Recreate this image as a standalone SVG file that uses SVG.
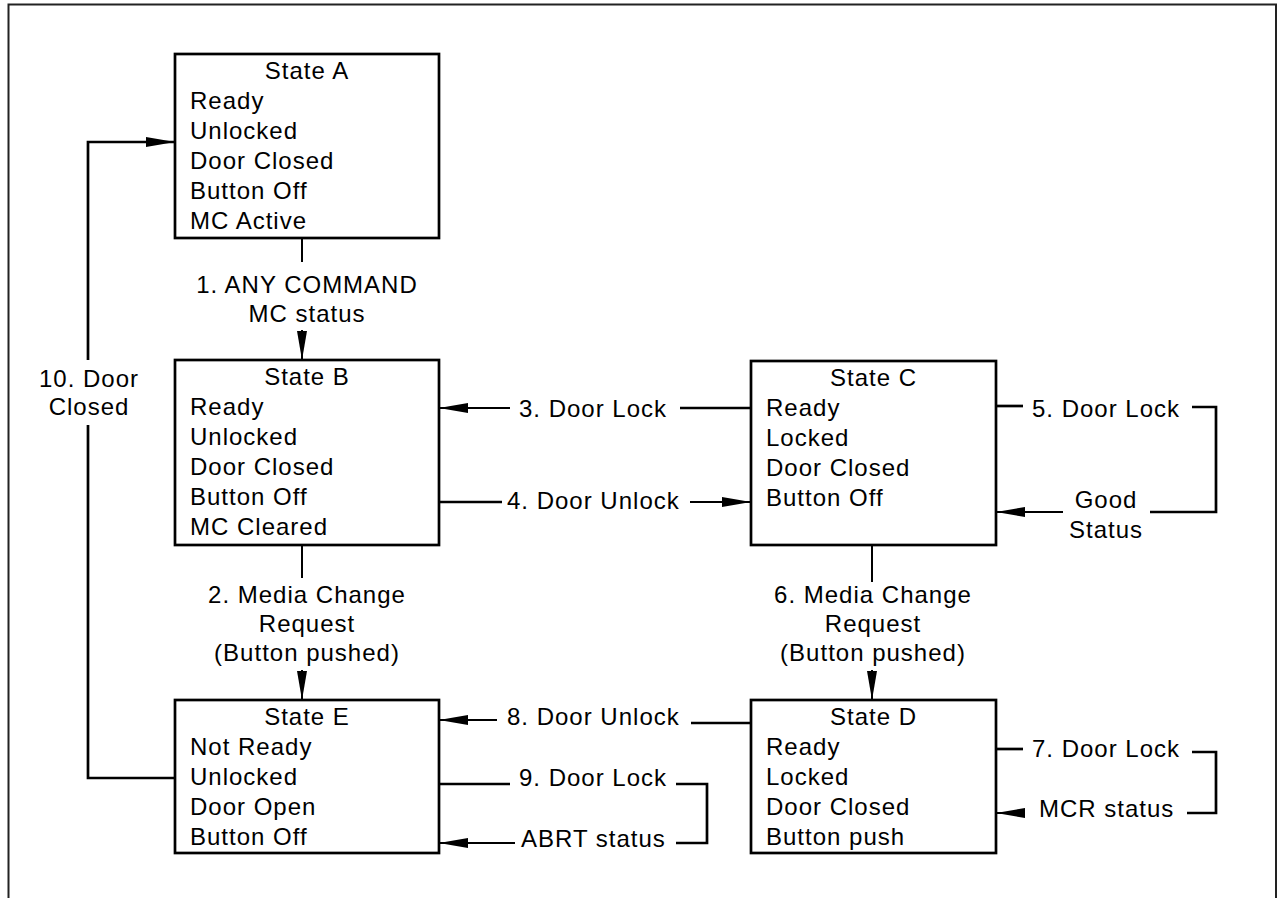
<svg xmlns="http://www.w3.org/2000/svg" width="1278" height="898" viewBox="0 0 1278 898">
  <defs>
    <marker id="ah" markerUnits="userSpaceOnUse" markerWidth="29" markerHeight="10" refX="29" refY="5" orient="auto">
      <path d="M0,0 L29,5 L0,10 z" fill="#000"/>
    </marker>
  </defs>
  <style>
    text { font-family: "Liberation Sans", Arial, sans-serif; font-size: 24px; letter-spacing: 1px; fill: #000; }
    .c { text-anchor: middle; }
    .box { fill: #fff; stroke: #000; stroke-width: 2.7; }
    .thick { fill: none; stroke: #000; stroke-width: 2.7; }
    .thin { fill: none; stroke: #000; stroke-width: 2; }
    .arr { marker-end: url(#ah); }
  </style>
  <rect x="0" y="0" width="1278" height="898" fill="#fff"/>
  <path d="M8.5,898 V4.5 H1276 V898" fill="none" stroke="#222" stroke-width="2"/>

  <g id="connectors">
    <!-- 1 -->
    <line class="thin" x1="302" y1="238" x2="302" y2="262"/>
    <line class="thin arr" x1="302" y1="330" x2="302" y2="360"/>
    <!-- 2 -->
    <line class="thin" x1="302" y1="545" x2="302" y2="578"/>
    <line class="thin arr" x1="302" y1="670" x2="302" y2="700"/>
    <!-- 3 -->
    <line class="thin arr" x1="510" y1="408" x2="439" y2="408"/>
    <line class="thick" x1="680" y1="408" x2="751" y2="408"/>
    <!-- 4 -->
    <line class="thick" x1="439" y1="502" x2="502" y2="502"/>
    <line class="thin arr" x1="690" y1="502" x2="751" y2="502"/>
    <!-- 5 -->
    <line class="thick" x1="996" y1="406" x2="1023" y2="406"/>
    <path class="thick" d="M1192,407 H1216 V512 H1150"/>
    <line class="thin arr" x1="1063" y1="512" x2="996" y2="512"/>
    <!-- 6 -->
    <line class="thin" x1="872" y1="545" x2="872" y2="582"/>
    <line class="thin arr" x1="872" y1="670" x2="872" y2="700"/>
    <!-- 7 -->
    <line class="thick" x1="996" y1="749" x2="1023" y2="749"/>
    <path class="thick" d="M1192,752 H1216 V813 H1187"/>
    <line class="thin arr" x1="1024" y1="813" x2="996" y2="813"/>
    <!-- 8 -->
    <line class="thin arr" x1="497" y1="720" x2="439" y2="720"/>
    <line class="thick" x1="691" y1="723" x2="751" y2="723"/>
    <!-- 9 -->
    <line class="thick" x1="439" y1="784" x2="510" y2="784"/>
    <path class="thick" d="M676,784 H707 V843 H676"/>
    <line class="thin arr" x1="515" y1="843" x2="439" y2="843"/>
    <!-- 10 -->
    <path class="thick" d="M175,778 H88 V425"/>
    <path class="thick arr" d="M88,360 V142 H175"/>
  </g>

  <g id="labels">
    <text class="c" x="307" y="293">1. ANY COMMAND</text>
    <text class="c" x="307" y="322">MC status</text>
    <text class="c" x="307" y="603">2. Media Change</text>
    <text class="c" x="307" y="632">Request</text>
    <text class="c" x="307" y="661">(Button pushed)</text>
    <text x="519" y="417">3. Door Lock</text>
    <text x="507" y="509">4. Door Unlock</text>
    <text x="1032" y="417">5. Door Lock</text>
    <text class="c" x="1106" y="508">Good</text>
    <text class="c" x="1106" y="538">Status</text>
    <text class="c" x="873" y="603">6. Media Change</text>
    <text class="c" x="873" y="632">Request</text>
    <text class="c" x="873" y="661">(Button pushed)</text>
    <text x="1032" y="757">7. Door Lock</text>
    <text x="1039" y="817">MCR status</text>
    <text x="507" y="725">8. Door Unlock</text>
    <text x="519" y="786">9. Door Lock</text>
    <text x="521" y="847">ABRT status</text>
    <text class="c" x="89" y="387">10. Door</text>
    <text class="c" x="89" y="415">Closed</text>
  </g>

  <g id="stateA">
    <rect class="box" x="175" y="54" width="264" height="184"/>
    <text class="c" x="307" y="79">State A</text>
    <text x="190" y="109">Ready</text>
    <text x="190" y="139">Unlocked</text>
    <text x="190" y="169">Door Closed</text>
    <text x="190" y="199">Button Off</text>
    <text x="190" y="229">MC Active</text>
  </g>

  <g id="stateB">
    <rect class="box" x="175" y="360" width="264" height="185"/>
    <text class="c" x="307" y="385">State B</text>
    <text x="190" y="415">Ready</text>
    <text x="190" y="445">Unlocked</text>
    <text x="190" y="475">Door Closed</text>
    <text x="190" y="505">Button Off</text>
    <text x="190" y="535">MC Cleared</text>
  </g>

  <g id="stateC">
    <rect class="box" x="751" y="361" width="245" height="184"/>
    <text class="c" x="873.5" y="386">State C</text>
    <text x="766" y="416">Ready</text>
    <text x="766" y="446">Locked</text>
    <text x="766" y="476">Door Closed</text>
    <text x="766" y="506">Button Off</text>
  </g>

  <g id="stateD">
    <rect class="box" x="751" y="700" width="245" height="153"/>
    <text class="c" x="873.5" y="725">State D</text>
    <text x="766" y="755">Ready</text>
    <text x="766" y="785">Locked</text>
    <text x="766" y="815">Door Closed</text>
    <text x="766" y="845">Button push</text>
  </g>

  <g id="stateE">
    <rect class="box" x="175" y="700" width="264" height="153"/>
    <text class="c" x="307" y="725">State E</text>
    <text x="190" y="755">Not Ready</text>
    <text x="190" y="785">Unlocked</text>
    <text x="190" y="815">Door Open</text>
    <text x="190" y="845">Button Off</text>
  </g>
</svg>
